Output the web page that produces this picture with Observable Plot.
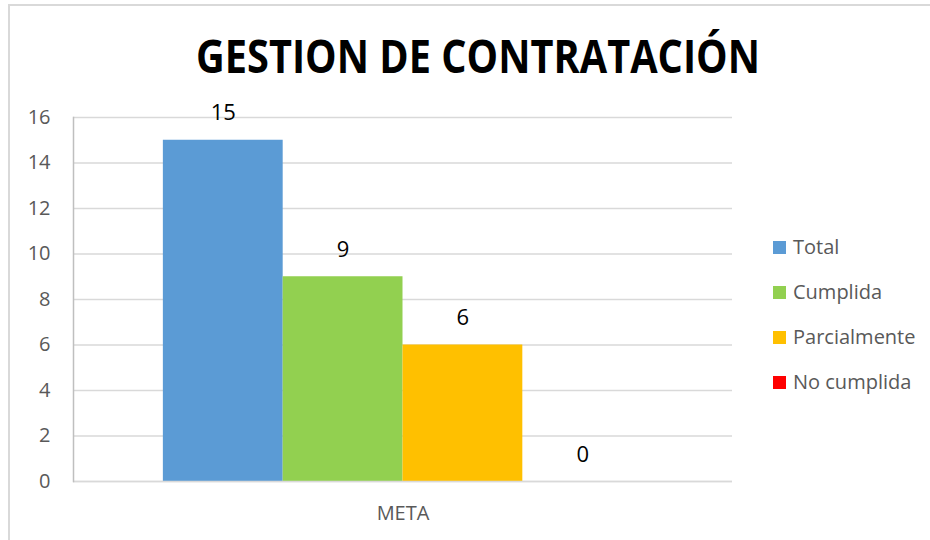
<!DOCTYPE html>
<html>
<head>
<meta charset="utf-8">
<script src="https://cdn.jsdelivr.net/npm/d3@7"></script>
<script src="https://cdn.jsdelivr.net/npm/@observablehq/plot@0.6"></script>
<style>
  html, body { margin: 0; padding: 0; background: #fff; }
  #wrap { position: relative; width: 930px; height: 540px; overflow: hidden; font-family: "Open Sans", sans-serif; }
  #border { position: absolute; left: 8px; top: 4px; width: 940px; height: 560px; border-left: 2px solid #d9d9d9; border-top: 2px solid #d9d9d9; box-sizing: border-box; }
  #chart { position: absolute; left: 0; top: 0; }
  #title { position: absolute; left: 0; top: 0; }
  #legend { position: absolute; left: 773px; top: 0; }
  .item { position: absolute; left: 0; white-space: nowrap; font-size: 20px; color: #595959; line-height: 24px; height: 24px; }
  .sw { display: inline-block; width: 13px; height: 13px; vertical-align: middle; margin-right: 7px; position: relative; top: -1px; }
</style>
</head>
<body>
<div id="wrap">
  <div id="border"></div>
  <div id="chart"></div>
  <svg id="title" width="930" height="100"></svg>
  <div id="legend"></div>
</div>
<script>
const titleText = "GESTION DE CONTRATACIÓN";
const category = "META";
const series = ["Total", "Cumplida", "Parcialmente", "No cumplida"];
const values = [15, 9, 6, 0];
const colors = ["#5B9BD5", "#92D050", "#FFC000", "#FF0000"];
const yTicks = [0, 2, 4, 6, 8, 10, 12, 14, 16];

const data = series.map((s, i) => ({category, series: s, value: values[i]}));

const chart = Plot.plot({
  width: 930,
  height: 540,
  marginLeft: 73,
  marginRight: 198,
  marginTop: 117,
  marginBottom: 59,
  style: {fontFamily: "Open Sans, sans-serif", background: "transparent"},
  fx: {domain: [category], padding: 0, label: null},
  x: {domain: series, paddingInner: 0, paddingOuter: 0.75, round: false, axis: null},
  y: {domain: [0, 16], label: null},
  color: {domain: series, range: colors},
  marks: [
    Plot.gridY(yTicks, {stroke: "#d9d9d9", strokeOpacity: 1, strokeWidth: 1.5}),
    Plot.axisY(yTicks, {tickSize: 0, tickPadding: 23, fontSize: 20, color: "#595959", label: null}),
    Plot.axisFx({anchor: "bottom", tickSize: 0, tickPadding: 24, fontSize: 20, color: "#595959", label: null}),
    Plot.barY(data, {fx: "category", x: "series", y: "value", fill: "series"}),
    Plot.ruleY([0], {stroke: "#d9d9d9", strokeWidth: 1.5}),
    Plot.frame({anchor: "left", stroke: "#bfbfbf", strokeWidth: 1.5}),
    Plot.text(data, {fx: "category", x: "series", y: "value", text: d => String(d.value), lineAnchor: "middle", dy: -27, fontSize: 22, fill: "#000"})
  ]
});
document.getElementById("chart").appendChild(chart);

// Title
const tsvg = d3.select("#title");
tsvg.append("text")
  .attr("x", 478).attr("y", 73)
  .attr("text-anchor", "middle")
  .attr("font-family", "Open Sans, sans-serif")
  .attr("font-weight", "bold")
  .attr("font-size", 46)
  .attr("fill", "#000")
  .attr("textLength", 564)
  .attr("lengthAdjust", "spacingAndGlyphs")
  .text(titleText);

// Legend
const legendTops = [247, 292, 337, 382];
const legend = d3.select("#legend");
series.forEach((s, i) => {
  const item = legend.append("div").attr("class", "item").style("top", (legendTops[i] - 12) + "px");
  item.append("span").attr("class", "sw").style("background", colors[i]);
  item.append("span").text(s);
});
</script>
</body>
</html>
